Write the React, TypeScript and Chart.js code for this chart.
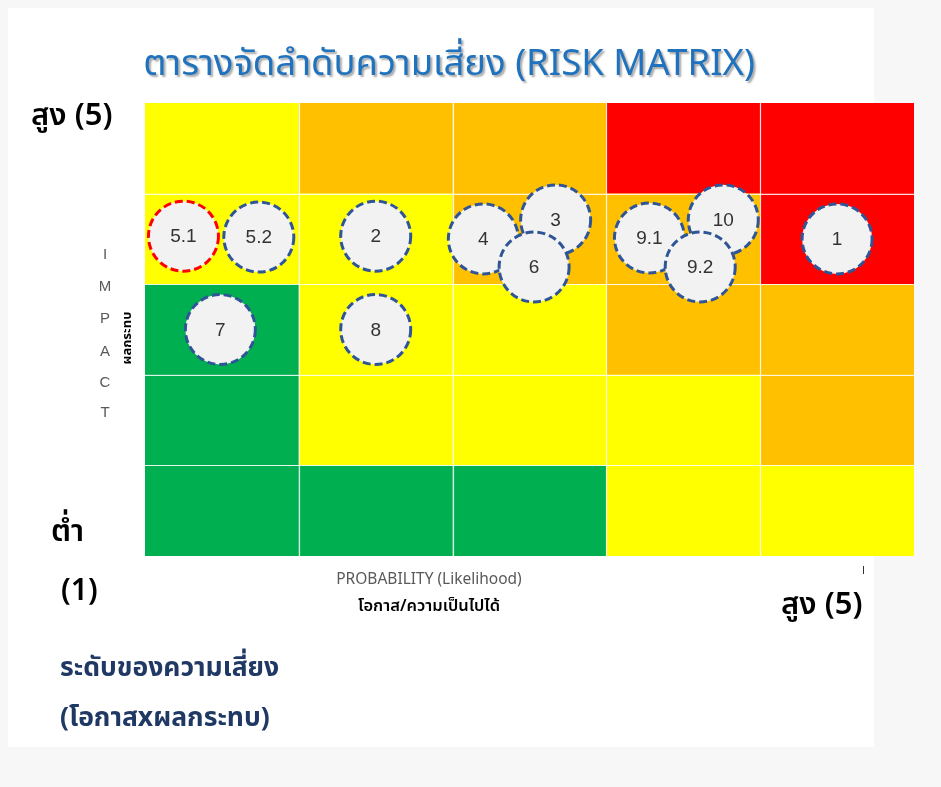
import React, { useEffect, useRef } from "react";
import { Chart, registerables } from "chart.js";

Chart.register(...registerables);

// ---- data ----
const probabilityLevels = [1, 2, 3, 4, 5];
const impactLevels = [5, 4, 3, 2, 1];
// rows: impact 5 (top) .. 1 (bottom); columns: probability 1..5
const cellLevels = [
  ["Y", "O", "O", "R", "R"],
  ["Y", "Y", "O", "O", "R"],
  ["G", "Y", "Y", "O", "O"],
  ["G", "Y", "Y", "Y", "O"],
  ["G", "G", "G", "Y", "Y"],
];
const riskIds = ["5.1", "5.2", "2", "3", "4", "6", "10", "9.1", "9.2", "1", "7", "8"];
const riskProbability = [0.25, 0.74, 1.5, 2.67, 2.2, 2.53, 3.76, 3.28, 3.61, 4.5, 0.49, 1.5];
const riskImpact = [3.53, 3.52, 3.53, 3.71, 3.5, 3.19, 3.71, 3.51, 3.19, 3.5, 2.5, 2.5];
const riskHighlighted = [true, false, false, false, false, false, false, false, false, false, false, false];

const levelColors: Record<string, string> = {
  G: "#00B050",
  Y: "#FFFF00",
  O: "#FFC000",
  R: "#FF0000",
};

const THAI = "'Noto Sans Thai','Noto Sans Thai UI','Leelawadee UI','Tahoma','Liberation Sans','DejaVu Sans',sans-serif";

const matrixPlugin = {
  id: "matrixPlugin",
  beforeDraw(chart: any) {
    const { ctx, scales } = chart;
    const xs = scales.x;
    const ys = scales.y;
    ctx.save();
    impactLevels.forEach((imp, r) => {
      probabilityLevels.forEach((p, c) => {
        const x0 = xs.getPixelForValue(p - 1);
        const x1 = xs.getPixelForValue(p);
        const y0 = ys.getPixelForValue(imp);
        const y1 = ys.getPixelForValue(imp - 1);
        ctx.fillStyle = levelColors[cellLevels[r][c]];
        ctx.fillRect(x0, y0, x1 - x0, y1 - y0);
      });
    });
    ctx.strokeStyle = "rgba(255,255,255,0.85)";
    ctx.lineWidth = 1.2;
    const left = xs.getPixelForValue(0);
    const right = xs.getPixelForValue(5);
    const top = ys.getPixelForValue(5);
    const bottom = ys.getPixelForValue(0);
    for (let i = 1; i < 5; i++) {
      const px = Math.round(xs.getPixelForValue(i)) + 0.5;
      ctx.beginPath();
      ctx.moveTo(px, top);
      ctx.lineTo(px, bottom);
      ctx.stroke();
      const py = Math.round(ys.getPixelForValue(i)) + 0.5;
      ctx.beginPath();
      ctx.moveTo(left, py);
      ctx.lineTo(right, py);
      ctx.stroke();
    }
    ctx.restore();
  },
  afterDatasetsDraw(chart: any) {
    const { ctx } = chart;
    const meta = chart.getDatasetMeta(0);
    ctx.save();
    meta.data.forEach((el: any, i: number) => {
      const r = 35;
      ctx.beginPath();
      ctx.arc(el.x, el.y, r, 0, Math.PI * 2);
      ctx.fillStyle = "#F2F2F2";
      ctx.fill();
      ctx.setLineDash([8, 4]);
      ctx.lineWidth = 3;
      ctx.strokeStyle = riskHighlighted[i] ? "#FF0000" : "#2F5597";
      ctx.stroke();
      ctx.setLineDash([]);
      ctx.fillStyle = "#333333";
      ctx.font = "19px 'Liberation Sans', Arial, sans-serif";
      ctx.textAlign = "center";
      ctx.textBaseline = "middle";
      ctx.fillText(riskIds[i], el.x, el.y + 1);
    });
    ctx.restore();
  },
};

function RiskChart() {
  const ref = useRef<HTMLCanvasElement | null>(null);
  useEffect(() => {
    if (!ref.current) return;
    const chart = new Chart(ref.current, {
      type: "scatter",
      data: {
        datasets: [
          {
            label: "risks",
            data: riskIds.map((_, i) => ({ x: riskProbability[i], y: riskImpact[i] })),
            pointRadius: 0,
            pointHoverRadius: 0,
          },
        ],
      },
      options: {
        animation: false,
        responsive: false,
        events: [],
        layout: { padding: { left: 145, top: 103, right: 27, bottom: 231 } },
        plugins: { legend: { display: false }, tooltip: { enabled: false } },
        scales: {
          x: { type: "linear", min: 0, max: 5, display: false },
          y: { type: "linear", min: 0, max: 5, display: false },
        },
      },
      plugins: [matrixPlugin],
    });
    return () => chart.destroy();
  }, []);
  return <canvas ref={ref} width={941} height={787} style={{ position: "absolute", left: 0, top: 0 }} />;
}

const abs = (extra: React.CSSProperties): React.CSSProperties => ({
  position: "absolute",
  whiteSpace: "nowrap",
  lineHeight: 1,
  fontFamily: THAI,
  ...extra,
});

export default function App() {
  const impactLetters = ["I", "M", "P", "A", "C", "T"];
  const impactTops = [246, 278, 310, 343, 374, 404];
  return (
    <div style={{ position: "absolute", left: 0, top: 0, width: 941, height: 787, background: "#F7F7F7", overflow: "hidden" }}>
      <div style={{ position: "absolute", left: 8, top: 8, width: 866, height: 739, background: "#FFFFFF" }} />
      <RiskChart />
      <div style={{ position: "absolute", left: 863, top: 566, width: 1, height: 8, background: "#333" }} />
      <div
        style={abs({
          left: 138,
          top: 46,
          width: 622,
          textAlign: "center",
          fontSize: 36.5,
          color: "#1F72BD",
          textShadow: "2px 2px 2px rgba(0,0,0,0.35)",
        })}
      >
        ตารางจัดลำดับความเสี่ยง (RISK MATRIX)
      </div>
      <div style={abs({ left: 31, top: 100, fontSize: 31, color: "#000", fontWeight: 600 })}>สูง (5)</div>
      <div style={abs({ left: 51, top: 516, fontSize: 31, color: "#000", fontWeight: 600 })}>ต่ำ</div>
      <div style={abs({ left: 61, top: 576, fontSize: 30, color: "#000", fontWeight: 600 })}>(1)</div>
      <div style={abs({ left: 781, top: 589, fontSize: 31, color: "#000", fontWeight: 600 })}>สูง (5)</div>
      {impactLetters.map((l, i) => (
        <div key={l + i} style={abs({ left: 97, width: 16, textAlign: "center", top: impactTops[i], fontSize: 15, color: "#595959", fontFamily: "'Liberation Sans', Arial, sans-serif" })}>
          {l}
        </div>
      ))}
      <div
        style={abs({
          left: 127,
          top: 338,
          fontSize: 13,
          fontWeight: 700,
          color: "#000",
          transform: "translate(-50%, -50%) rotate(-90deg)",
        })}
      >
        ผลกระทบ
      </div>
      <div style={abs({ left: 325, top: 572, width: 208, textAlign: "center", fontSize: 15.5, color: "#595959", letterSpacing: 0 })}>
        PROBABILITY (Likelihood)
      </div>
      <div style={abs({ left: 325, top: 598, width: 208, textAlign: "center", fontSize: 16.5, color: "#000", fontWeight: 600 })}>
        โอกาส/ความเป็นไปได้
      </div>
      <div style={abs({ left: 60, top: 655, fontSize: 26.5, color: "#1F3864", fontWeight: 700 })}>ระดับของความเสี่ยง</div>
      <div style={abs({ left: 60, top: 705, fontSize: 26.5, color: "#1F3864", fontWeight: 700 })}>(โอกาสxผลกระทบ)</div>
    </div>
  );
}
